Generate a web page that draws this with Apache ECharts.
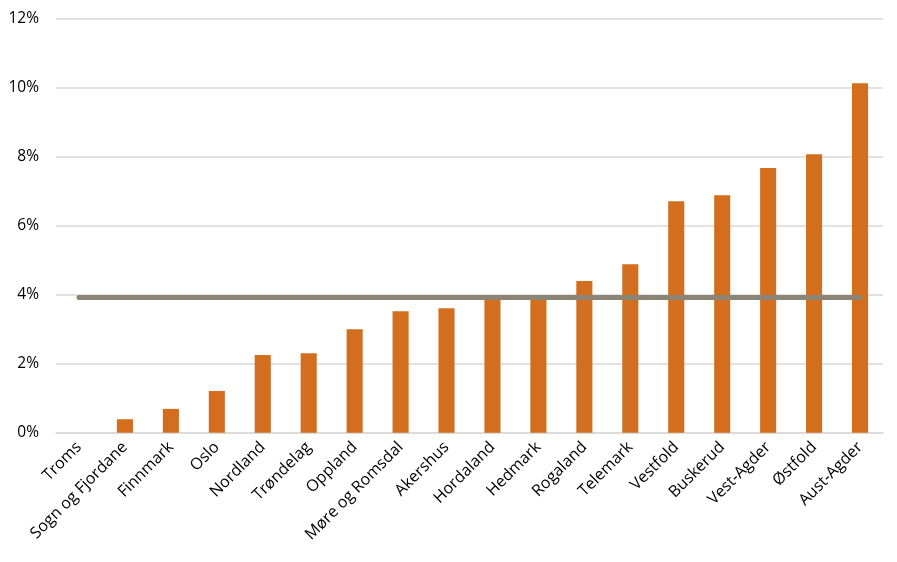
<!DOCTYPE html>
<html>
<head>
<meta charset="utf-8">
<script src="https://cdn.jsdelivr.net/npm/echarts@6/dist/echarts.min.js"></script>
<style>
html,body{margin:0;padding:0;background:#fff;}
#chart{width:897px;height:562px;}
</style>
</head>
<body>
<div id="chart"></div>
<script>
const categories = ["Troms","Sogn og Fjordane","Finnmark","Oslo","Nordland","Trøndelag","Oppland","Møre og Romsdal","Akershus","Hordaland","Hedmark","Rogaland","Telemark","Vestfold","Buskerud","Vest-Agder","Østfold","Aust-Agder"];
const values = [0, 0.39, 0.69, 1.21, 2.25, 2.30, 3.00, 3.52, 3.61, 3.95, 3.93, 4.40, 4.88, 6.71, 6.88, 7.67, 8.07, 10.13];
const average = [3.92,3.92,3.92,3.92,3.92,3.92,3.92,3.92,3.92,3.92,3.92,3.92,3.92,3.92,3.92,3.92,3.92,3.92];
const yTicks = {min: 0, max: 12, interval: 2};

const font = '"Open Sans", "Liberation Sans", sans-serif';
const chart = echarts.init(document.getElementById('chart'), null, {renderer: 'canvas'});
chart.setOption({
  animation: false,
  backgroundColor: '#ffffff',
  grid: {left: 56, right: 14, top: 18.7, bottom: 129.3, containLabel: false},
  xAxis: {
    type: 'category',
    data: categories,
    axisLine: {show: true, lineStyle: {color: '#d9d9d9', width: 1.5}},
    axisTick: {show: false},
    axisLabel: {rotate: 45, interval: 0, margin: 12, color: '#000', fontFamily: font, fontSize: 16}
  },
  yAxis: {
    type: 'value',
    min: yTicks.min, max: yTicks.max, interval: yTicks.interval,
    axisLine: {show: false},
    axisTick: {show: false},
    splitLine: {lineStyle: {color: '#d9d9d9', width: 1.5}},
    axisLabel: {formatter: '{value}%', margin: 17, color: '#000', fontFamily: font, fontSize: 15.5}
  },
  series: [
    {
      type: 'bar',
      data: values,
      barWidth: '35%',
      itemStyle: {color: '#D26E1E'}
    },
    {
      type: 'line',
      data: average,
      symbol: 'none',
      lineStyle: {color: '#8a8576', width: 5, cap: 'round'},
      z: 5
    }
  ]
});
</script>
</body>
</html>
